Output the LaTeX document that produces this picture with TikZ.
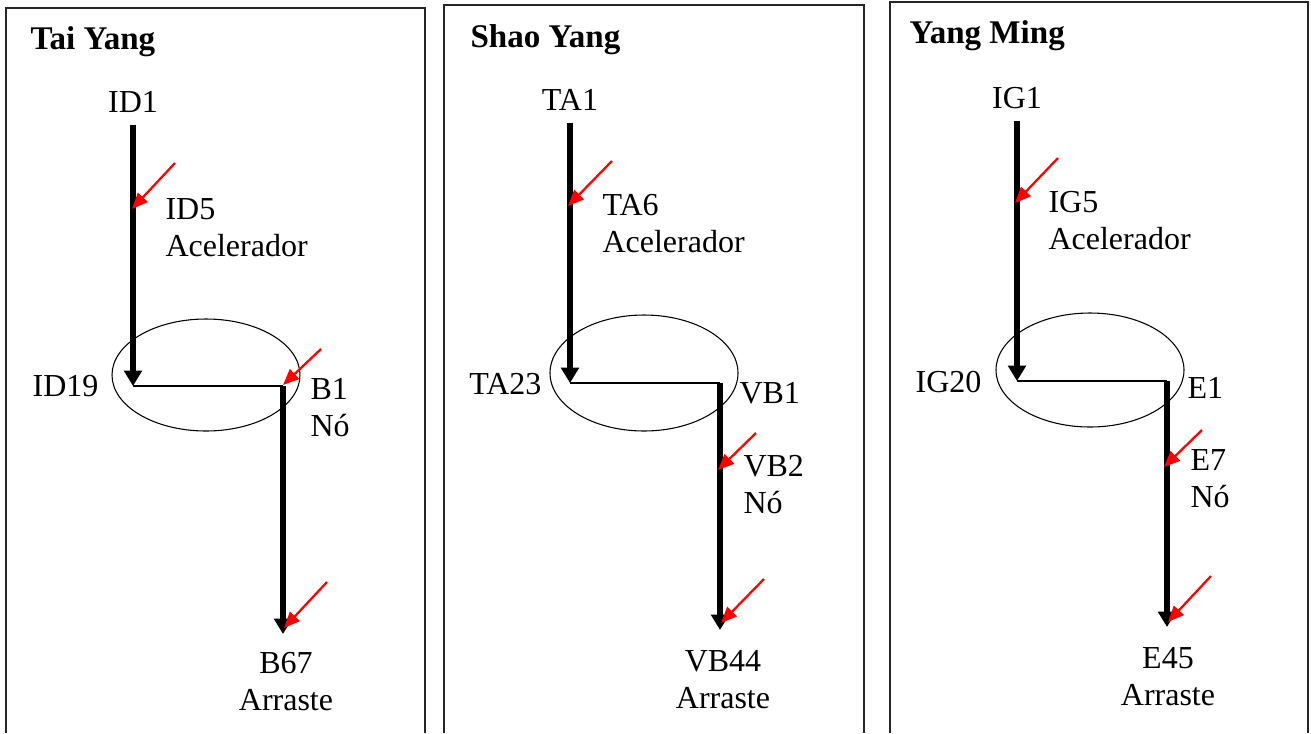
\documentclass[tikz,border=0pt]{standalone}
\usepackage{fontspec}
\setmainfont{Liberation Serif}
\usetikzlibrary{arrows.meta}

\begin{document}
\begin{tikzpicture}[
    x=0.375pt, y=-0.375pt,
    panel/.style={line width=0.6pt, black!85},
    flow/.style={line width=2pt, -{Triangle[length=5.8pt,width=6.6pt]}},
    link/.style={line width=0.55pt},
    hit/.style={red, line width=0.85pt, -{Triangle[length=6pt,width=5pt]}},
    zone/.style={line width=0.4pt},
    lbl/.style={font=\fontsize{12}{13.9}\selectfont, inner sep=0pt, align=left},
    src/.style={lbl, inner ysep=4.5pt},
    ttl/.style={font=\fontsize{12.4}{14}\selectfont\bfseries, inner sep=0pt},
]
\useasboundingbox (0,0) rectangle (1311,733);

% Tai Yang
\draw[panel] (6,733) -- (6,8) -- (425,8) -- (425,733);
\node[ttl, anchor=base west] (tyT) at (30,49) {Tai Yang};
\node[src, anchor=base] (ty1) at (133,112) {ID1};
\node[lbl, anchor=north west] (ty5) at (165,198) {ID5\\Acelerador};
\node[lbl, anchor=base east] (ty19) at (99,396) {ID19};
\node[lbl, anchor=north west] (tyB1) at (310,378) {B1\\Nó};
\node[lbl, anchor=north, align=center] (tyB67) at (286,652) {B67\\Arraste};
\coordinate (tyC) at (133,386);
\coordinate (tyD) at (283,386);
\coordinate (tyE) at (283,634);
\draw[zone] (206,375) ellipse [x radius=94, y radius=56];
\draw[flow] (ty1.south) -- (tyC);
\draw[link] (tyC) -- (tyD);
\draw[flow] (tyD) -- (tyE);
\coordinate (tyA1) at (175,163);
\coordinate (tyH1) at (132,209);
\coordinate (tyA2) at (321,349);
\coordinate (tyH2) at (283,385);
\coordinate (tyA3) at (327,582);
\coordinate (tyH3) at (284,628);
\draw[hit] (tyA1) -- (tyH1);
\draw[hit] (tyA2) -- (tyH2);
\draw[hit] (tyA3) -- (tyH3);

% Shao Yang
\draw[panel] (444,733) -- (444,5) -- (864,5) -- (864,733);
\node[ttl, anchor=base west] (syT) at (470,47) {Shao Yang};
\node[src, anchor=base] (sy1) at (570,110) {TA1};
\node[lbl, anchor=north west] (sy6) at (602,194) {TA6\\Acelerador};
\node[lbl, anchor=base east] (sy23) at (542,394) {TA23};
\node[lbl, anchor=north west] (syVB1) at (739,382) {VB1};
\node[lbl, anchor=north west] (syVB2) at (743,455) {VB2\\Nó};
\node[lbl, anchor=north, align=center] (syVB44) at (723,650) {VB44\\Arraste};
\coordinate (syC) at (570,383);
\coordinate (syD) at (720,383);
\coordinate (syE) at (720,630);
\draw[zone] (644,373) ellipse [x radius=94, y radius=58];
\draw[flow] (sy1.south) -- (syC);
\draw[link] (syC) -- (syD);
\draw[flow] (syD) -- (syE);
\coordinate (syA1) at (612,161);
\coordinate (syH1) at (568,206);
\coordinate (syA2) at (756,433);
\coordinate (syH2) at (718,470);
\coordinate (syA3) at (764,579);
\coordinate (syH3) at (721,623);
\draw[hit] (syA1) -- (syH1);
\draw[hit] (syA2) -- (syH2);
\draw[hit] (syA3) -- (syH3);

% Yang Ming
\draw[panel] (890,733) -- (890,2) -- (1308,2) -- (1308,733);
\node[ttl, anchor=base west] (ymT) at (909,43) {Yang Ming};
\node[src, anchor=base] (ym1) at (1017,108) {IG1};
\node[lbl, anchor=north west] (ym5) at (1048,191) {IG5\\Acelerador};
\node[lbl, anchor=base east] (ym20) at (982,392) {IG20};
\node[lbl, anchor=north west] (ymE1) at (1187,377) {E1};
\node[lbl, anchor=north west] (ymE7) at (1190,449) {E7\\Nó};
\node[lbl, anchor=north, align=center] (ymE45) at (1168,647) {E45\\Arraste};
\coordinate (ymC) at (1017,381);
\coordinate (ymD) at (1167,381);
\coordinate (ymE) at (1167,627);
\draw[zone] (1090,370) ellipse [x radius=94, y radius=57];
\draw[flow] (ym1.south) -- (ymC);
\draw[link] (ymC) -- (ymD);
\draw[flow] (ymD) -- (ymE);
\coordinate (ymA1) at (1058,158);
\coordinate (ymH1) at (1015,203);
\coordinate (ymA2) at (1202,430);
\coordinate (ymH2) at (1164,467);
\coordinate (ymA3) at (1211,576);
\coordinate (ymH3) at (1168,622);
\draw[hit] (ymA1) -- (ymH1);
\draw[hit] (ymA2) -- (ymH2);
\draw[hit] (ymA3) -- (ymH3);
\end{tikzpicture}
\end{document}
